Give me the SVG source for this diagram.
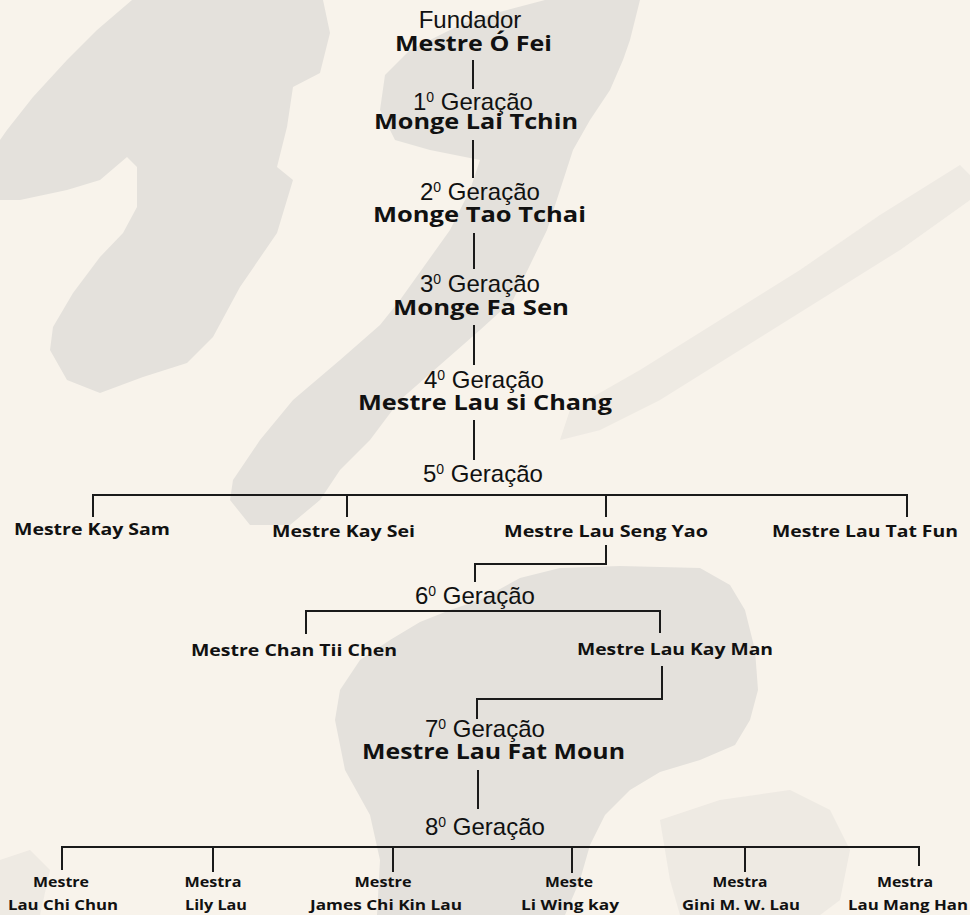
<svg xmlns="http://www.w3.org/2000/svg" width="970" height="915" viewBox="0 0 970 915">
<style>
.bg{fill:#f8f3eb}
.ink{fill:#e4e1dc}
.ink2{fill:#e6e2dc;opacity:0.55}
.gen{font-family:"Liberation Sans",Arial,sans-serif;font-size:24px;fill:#111}
.sup{font-size:14px}
.big{font-family:"Open Sans","Noto Sans",sans-serif;font-weight:700;font-size:21px;fill:#111;text-anchor:middle}
.mid{font-family:"Open Sans","Noto Sans",sans-serif;font-weight:700;font-size:16.5px;fill:#111;text-anchor:middle}
.sm{font-family:"Open Sans","Noto Sans",sans-serif;font-weight:700;font-size:14.5px;fill:#111;text-anchor:middle}
#connectors path,#connectors line{stroke:#1a1a1a;stroke-width:2;fill:none}
</style>
<rect class="bg" x="0" y="0" width="970" height="915"/>
<g id="background">
<polygon class="ink" points="132,0 97,30 67,60 33,97 7,130 0,140 0,200 20,200 67,190 100,180 127,157 137,167 137,207 123,233 100,257 73,293 53,327 50,350 67,380 100,393 143,377 187,363 213,337 240,287 277,233 293,180 277,167 287,127 293,87 320,73 330,33 323,0"/>
<polygon class="ink" points="545,0 640,0 630,40 623,60 610,90 590,120 573,150 560,190 547,230 530,265 513,300 480,330 440,365 400,400 370,440 340,470 320,500 290,525 250,525 230,500 233,480 260,440 293,400 340,360 380,325 400,300 425,265 450,230 470,190 480,160 430,150 395,140 380,110 385,75 410,50 470,20"/>
<polygon class="ink2" points="960,165 970,175 970,200 900,250 820,300 740,350 660,400 600,430 560,440 570,410 640,370 720,320 800,270 880,215"/>
<polygon class="ink" points="480,600 520,578 560,568 620,566 700,568 730,585 745,610 755,650 758,690 750,720 735,745 700,760 660,772 630,790 605,815 590,845 580,880 565,915 377,915 380,860 370,815 345,770 335,720 340,690 360,660 390,640 420,622 450,610"/>
<polygon class="ink2" points="660,820 720,800 790,790 830,810 850,850 840,900 820,915 680,915 670,880"/>
<polygon class="ink2" points="0,860 30,850 50,870 40,915 0,915"/>
</g>
<g id="connectors">
<line x1="473" y1="60" x2="473" y2="89"/>
<line x1="473" y1="140" x2="473" y2="178"/>
<line x1="474" y1="233" x2="474" y2="269"/>
<line x1="474" y1="325" x2="474" y2="365"/>
<line x1="474" y1="420" x2="474" y2="460"/>
<path d="M93,517 V495 H907 V517"/>
<line x1="347" y1="495" x2="347" y2="517"/>
<line x1="606" y1="495" x2="606" y2="517"/>
<path d="M606,545 V564 H475 V582"/>
<path d="M306,634 V611 H660 V633"/>
<path d="M662,666 V699 H477 V719"/>
<line x1="478" y1="770" x2="478" y2="809"/>
<path d="M62,870 V847 H919 V866"/>
<line x1="213" y1="847" x2="213" y2="872"/>
<line x1="393" y1="847" x2="393" y2="872"/>
<line x1="572" y1="847" x2="572" y2="873"/>
<line x1="745" y1="847" x2="745" y2="872"/>
</g>
<g id="fundador">
<text class="gen" x="470" y="28" text-anchor="middle" font-size="23">Fundador</text>
<text class="big" x="473.5" y="51" textLength="157" lengthAdjust="spacingAndGlyphs">Mestre Ó Fei</text>
</g>
<g id="g1">
<text class="gen" x="413" y="110">1<tspan class="sup" dy="-8">0</tspan><tspan dy="8"> Geração</tspan></text>
<text class="big" x="476" y="129" textLength="204" lengthAdjust="spacingAndGlyphs">Monge Lai Tchin</text>
</g>
<g id="g2">
<text class="gen" x="420" y="200">2<tspan class="sup" dy="-8">0</tspan><tspan dy="8"> Geração</tspan></text>
<text class="big" x="479.5" y="222" textLength="213" lengthAdjust="spacingAndGlyphs">Monge Tao Tchai</text>
</g>
<g id="g3">
<text class="gen" x="420" y="292">3<tspan class="sup" dy="-8">0</tspan><tspan dy="8"> Geração</tspan></text>
<text class="big" x="481" y="315" textLength="176" lengthAdjust="spacingAndGlyphs">Monge Fa Sen</text>
</g>
<g id="g4">
<text class="gen" x="424" y="388">4<tspan class="sup" dy="-8">0</tspan><tspan dy="8"> Geração</tspan></text>
<text class="big" x="485" y="410" textLength="254" lengthAdjust="spacingAndGlyphs">Mestre Lau si Chang</text>
</g>
<g id="g5">
<text class="gen" x="423" y="482">5<tspan class="sup" dy="-8">0</tspan><tspan dy="8"> Geração</tspan></text>
</g>
<g id="kaysam"><text class="mid" x="92" y="535" textLength="156" lengthAdjust="spacingAndGlyphs">Mestre Kay Sam</text></g>
<g id="kaysei"><text class="mid" x="343.5" y="537" textLength="143" lengthAdjust="spacingAndGlyphs">Mestre Kay Sei</text></g>
<g id="sengyao"><text class="mid" x="606" y="537" textLength="204" lengthAdjust="spacingAndGlyphs">Mestre Lau Seng Yao</text></g>
<g id="tatfun"><text class="mid" x="865" y="537" textLength="186" lengthAdjust="spacingAndGlyphs">Mestre Lau Tat Fun</text></g>
<g id="g6">
<text class="gen" x="415" y="604">6<tspan class="sup" dy="-8">0</tspan><tspan dy="8"> Geração</tspan></text>
</g>
<g id="chantiichen"><text class="mid" x="294" y="656" textLength="206" lengthAdjust="spacingAndGlyphs">Mestre Chan Tii Chen</text></g>
<g id="kayman"><text class="mid" x="675" y="655" textLength="196" lengthAdjust="spacingAndGlyphs">Mestre Lau Kay Man</text></g>
<g id="g7">
<text class="gen" x="425" y="737">7<tspan class="sup" dy="-8">0</tspan><tspan dy="8"> Geração</tspan></text>
<text class="big" x="493.5" y="759" textLength="263" lengthAdjust="spacingAndGlyphs">Mestre Lau Fat Moun</text>
</g>
<g id="g8">
<text class="gen" x="425" y="835">8<tspan class="sup" dy="-8">0</tspan><tspan dy="8"> Geração</tspan></text>
</g>
<g id="chichun">
<text class="sm" x="61" y="887" textLength="56" lengthAdjust="spacingAndGlyphs">Mestre</text>
<text class="sm" x="63" y="910" textLength="110" lengthAdjust="spacingAndGlyphs">Lau Chi Chun</text>
</g>
<g id="lilylau">
<text class="sm" x="213" y="887" textLength="57" lengthAdjust="spacingAndGlyphs">Mestra</text>
<text class="sm" x="216" y="910" textLength="62" lengthAdjust="spacingAndGlyphs">Lily Lau</text>
</g>
<g id="james">
<text class="sm" x="383" y="887" textLength="57" lengthAdjust="spacingAndGlyphs">Mestre</text>
<text class="sm" x="386" y="910" textLength="152" lengthAdjust="spacingAndGlyphs">James Chi Kin Lau</text>
</g>
<g id="wingkay">
<text class="sm" x="569" y="887" textLength="48" lengthAdjust="spacingAndGlyphs">Meste</text>
<text class="sm" x="570" y="910" textLength="98" lengthAdjust="spacingAndGlyphs">Li Wing kay</text>
</g>
<g id="gini">
<text class="sm" x="740" y="887" textLength="55" lengthAdjust="spacingAndGlyphs">Mestra</text>
<text class="sm" x="741" y="910" textLength="118" lengthAdjust="spacingAndGlyphs">Gini M. W. Lau</text>
</g>
<g id="manghan">
<text class="sm" x="905" y="887" textLength="56" lengthAdjust="spacingAndGlyphs">Mestra</text>
<text class="sm" x="908" y="910" textLength="120" lengthAdjust="spacingAndGlyphs">Lau Mang Han</text>
</g>
</svg>
